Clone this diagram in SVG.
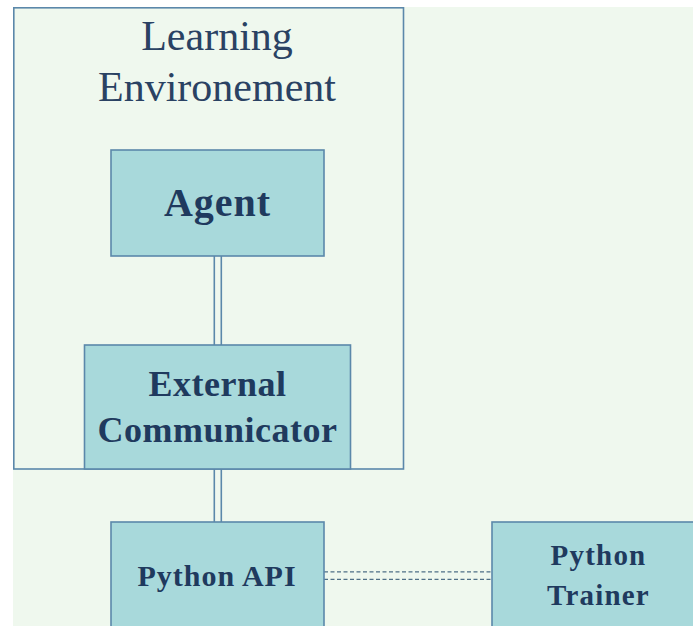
<svg xmlns="http://www.w3.org/2000/svg" width="693" height="626" viewBox="0 0 693 626">
  <style>
    .box { fill: #a8d9db; stroke: #5b88aa; stroke-width: 1.6; }
    .frame { fill: none; stroke: #5b88aa; stroke-width: 1.6; }
    .title { font-family: "Liberation Serif", "Times New Roman", serif; font-size: 42px; fill: #2a4263; text-anchor: middle; }
    .label { font-family: "Liberation Serif", "Times New Roman", serif; font-weight: bold; fill: #1f3a5e; text-anchor: middle; }
    .link { stroke: #5b88aa; stroke-width: 1.6; fill: none; }
    .dash { stroke: #4f6f86; stroke-width: 1.3; stroke-dasharray: 4 2.5; fill: none; }
  </style>

  <rect x="0" y="0" width="693" height="626" fill="#ffffff"/>
  <rect x="13" y="7" width="680" height="619" fill="#eff8ee"/>

  <g id="learning-environment">
    <rect class="frame" x="13.8" y="7.8" width="389.7" height="461.2"/>
    <text class="title" x="217" y="50">Learning</text>
    <text class="title" x="217" y="100.5">Environement</text>
  </g>

  <g id="connectors">
    <line class="link" x1="214.3" y1="256" x2="214.3" y2="345"/>
    <line class="link" x1="221.3" y1="256" x2="221.3" y2="345"/>
    <line class="link" x1="214.3" y1="469" x2="214.3" y2="522"/>
    <line class="link" x1="221.3" y1="469" x2="221.3" y2="522"/>
    <line class="dash" x1="324" y1="571.8" x2="492" y2="571.8"/>
    <line class="dash" x1="324" y1="579.3" x2="492" y2="579.3"/>
  </g>

  <g id="agent">
    <rect class="box" x="111" y="150" width="213" height="106"/>
    <text class="label" x="217.5" y="216" font-size="40" letter-spacing="1">Agent</text>
  </g>

  <g id="external-communicator">
    <rect class="box" x="84.5" y="345" width="266" height="124"/>
    <text class="label" x="217.5" y="395.7" font-size="36" letter-spacing="0.5">External</text>
    <text class="label" x="217.5" y="441.7" font-size="36" letter-spacing="0.5">Communicator</text>
  </g>

  <g id="python-api">
    <rect class="box" x="111" y="522" width="213" height="120"/>
    <text class="label" x="217" y="586" font-size="30" letter-spacing="1">Python API</text>
  </g>

  <g id="python-trainer">
    <rect class="box" x="492" y="522" width="213" height="120"/>
    <text class="label" x="598.5" y="565" font-size="29" letter-spacing="1.2">Python</text>
    <text class="label" x="598.5" y="605" font-size="29" letter-spacing="1.2">Trainer</text>
  </g>
</svg>
